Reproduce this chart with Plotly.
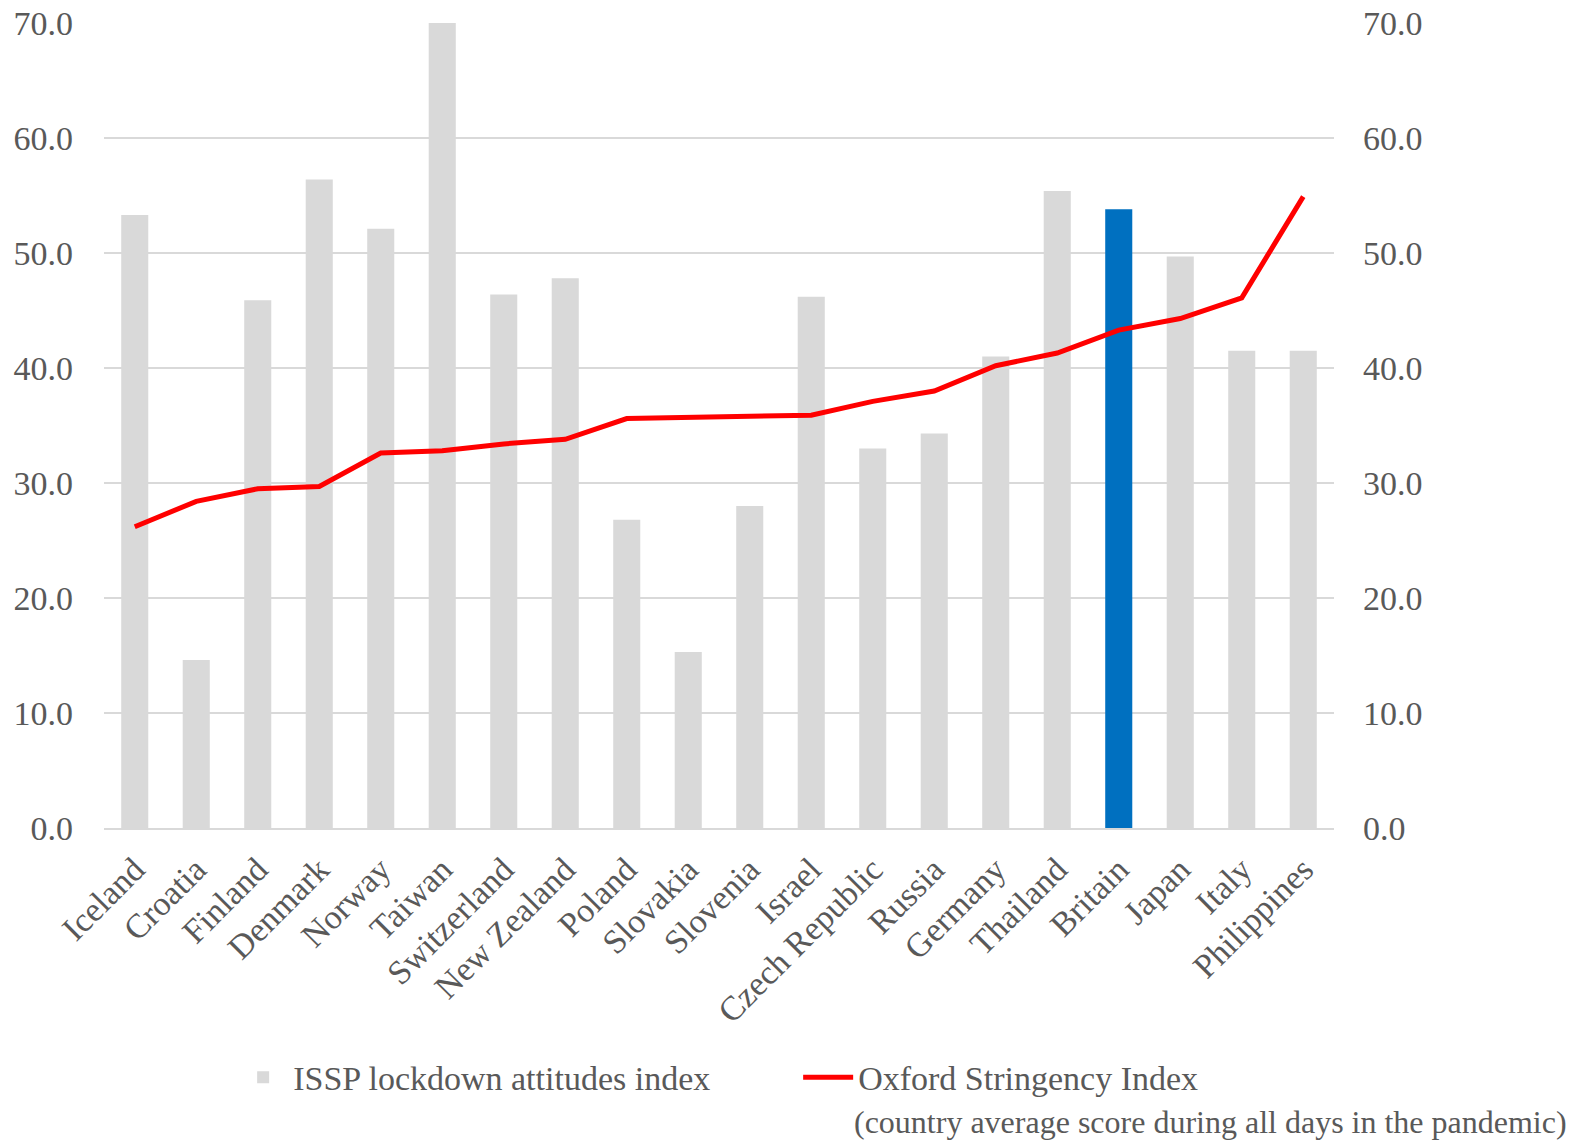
import plotly.graph_objects as go

countries = ["Iceland", "Croatia", "Finland", "Denmark", "Norway", "Taiwan", "Switzerland",
             "New Zealand", "Poland", "Slovakia", "Slovenia", "Israel", "Czech Republic",
             "Russia", "Germany", "Thailand", "Britain", "Japan", "Italy", "Philippines"]
issp_index = [53.3, 14.6, 45.9, 56.4, 52.1, 70.0, 46.4, 47.8, 26.8, 15.3, 28.0, 46.2,
              33.0, 34.3, 41.0, 55.4, 53.8, 49.7, 41.5, 41.5]
oxford_index = [26.2, 28.4, 29.5, 29.7, 32.6, 32.8, 33.4, 33.8, 35.6, 35.7, 35.9, 35.9,
                37.1, 38.0, 40.2, 41.3, 43.3, 44.3, 46.1, 54.9]
highlight = "Britain"
y_ticks = [0, 10, 20, 30, 40, 50, 60, 70]

FONT = "Liberation Serif"
FS = 34
GRAY = "#D9D9D9"
TXT = "#595959"

bar_colors = ["#0070C0" if c == highlight else GRAY for c in countries]

fig = go.Figure()
fig.add_trace(go.Bar(x=countries, y=issp_index, name="ISSP lockdown attitudes index",
                     marker=dict(color=bar_colors, line=dict(width=0)), yaxis="y"))
fig.add_trace(go.Scatter(x=countries, y=oxford_index, name="Oxford Stringency Index",
                         mode="lines", line=dict(color="#FF0000", width=5), yaxis="y2"))

fig.update_layout(
    width=1582, height=1144,
    margin=dict(l=104, r=248, t=23, b=316, autoexpand=False),
    paper_bgcolor="white", plot_bgcolor="white",
    font=dict(family=FONT, size=FS, color=TXT),
    bargap=0.56,
    showlegend=True,
    legend=dict(orientation="h", x=0.105, xanchor="left", y=-0.31, yanchor="middle",
                font=dict(family=FONT, size=FS, color=TXT), itemwidth=50,
                entrywidth=500, entrywidthmode="pixels",
                bgcolor="rgba(0,0,0,0)"),
    xaxis=dict(tickangle=-45, showgrid=False, showline=True, linecolor=GRAY, linewidth=2,
               tickfont=dict(family=FONT, size=FS, color=TXT), ticks="",
               ticklabelstandoff=6, automargin=False),
    yaxis=dict(range=[0, 70], tickvals=y_ticks, tickformat=".1f", showgrid=True,
               gridcolor=GRAY, gridwidth=2, zeroline=False, showline=False,
               tickfont=dict(family=FONT, size=FS, color=TXT), ticklabelstandoff=30,
               automargin=False, ticklabeloverflow="allow"),
    yaxis2=dict(range=[0, 70], tickvals=y_ticks, tickformat=".1f", overlaying="y",
                side="right", showgrid=False, zeroline=False, showline=False,
                tickfont=dict(family=FONT, size=FS, color=TXT), ticklabelstandoff=28,
                automargin=False, ticklabeloverflow="allow"),
    annotations=[dict(text="(country average score during all days in the pandemic)",
                      xref="paper", yref="paper", x=1.191, y=-0.39, xanchor="right",
                      yanchor="bottom", showarrow=False,
                      font=dict(family=FONT, size=32, color=TXT))],
)

fig.write_html("out.html")
